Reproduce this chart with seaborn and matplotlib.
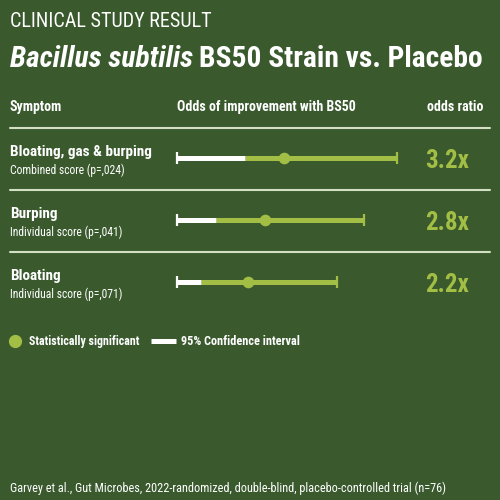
import matplotlib
matplotlib.use("Agg")
import matplotlib.pyplot as plt
from matplotlib import font_manager
from matplotlib.lines import Line2D
import seaborn as sns
import pandas as pd

# data
symptoms = ["Bloating, gas & burping", "Burping", "Bloating"]
subtitles = ["Combined score (p=,024)", "Individual score (p=,041)", "Individual score (p=,071)"]
odds_labels = ["3.2x", "2.8x", "2.2x"]
ci_start = [0.0, 0.0, 0.0]
white_end = [2.04, 1.16, 0.72]
points = [3.2, 2.63, 2.13]
ci_end = [6.6, 5.6, 4.78]

BG = "#3a5a2e"
LIME = "#a2be45"
WHITE = "#ffffff"
RULE = "#d3e0c4"

sns.set_theme(style="white", rc={"figure.facecolor": BG, "axes.facecolor": BG,
                                 "savefig.facecolor": BG})
names = {f.name for f in font_manager.fontManager.ttflist}
narrow = next((n for n in ["Liberation Sans Narrow", "Roboto Condensed", "Open Sans Condensed"]
               if n in names), "DejaVu Sans")
plt.rcParams["font.family"] = [narrow, "DejaVu Sans"]

df = pd.DataFrame({"symptom": symptoms, "row": range(len(symptoms)),
                   "ci_start": ci_start, "white_end": white_end,
                   "point": points, "ci_end": ci_end})

fig = plt.figure(figsize=(5, 5), dpi=100)
ax = fig.add_axes([0, 0, 1, 1])
ax.set_axis_off()

# pixel mapping: 0 at x=177, 33.4 px per unit; rows at y=158 + 62*i
k = 33.4
ax.set_xlim(-177 / k, 323 / k)
ax.set_ylim((500 - 158) / 62, -158 / 62)

ax.hlines(df["row"], df["white_end"], df["ci_end"], color=LIME, lw=3.6, capstyle="butt", zorder=2)
ax.hlines(df["row"], df["ci_start"], df["white_end"], color=WHITE, lw=3.6, capstyle="butt", zorder=2)
ax.vlines(df["ci_start"], df["row"] - 0.1, df["row"] + 0.1, color=WHITE, lw=1.6, zorder=3)
ax.vlines(df["ci_end"], df["row"] - 0.1, df["row"] + 0.1, color=LIME, lw=1.6, zorder=3)
sns.scatterplot(data=df, x="point", y="row", color=LIME, s=70, linewidth=0,
                ax=ax, legend=False, zorder=4)
ax.set_xlabel("")
ax.set_ylabel("")


def fy(py):
    return 1 - py / 500


def fx(px):
    return px / 500


# titles
fig.text(fx(10), fy(27), "CLINICAL STUDY RESULT", color=WHITE, fontsize=14.5, va="baseline")
r = fig.canvas.get_renderer()
size = 22
t1 = fig.text(fx(10), fy(67), "Bacillus subtilis", color=WHITE, fontsize=size,
              fontweight="bold", style="italic", va="baseline")
t2 = fig.text(0, fy(67), "BS50 Strain vs. Placebo", color=WHITE,
              fontsize=size, fontweight="bold", va="baseline")
# shrink the two-part title until it fits the reference width (10..485 px)
while True:
    t1.set_fontsize(size)
    t2.set_fontsize(size)
    bb = t1.get_window_extent(r)
    t2.set_x(bb.x1 / 500 + fx(6))
    if t2.get_window_extent(r).x1 <= 485 or size < 10:
        break
    size -= 0.25

# header
fig.text(fx(10), fy(111), "Symptom", color=WHITE, fontsize=10, fontweight="bold", va="baseline")
fig.text(fx(177), fy(111), "Odds of improvement with BS50", color=WHITE, fontsize=10,
         fontweight="bold", va="baseline")
fig.text(fx(483), fy(111), "odds ratio", color=WHITE, fontsize=10, fontweight="bold",
         va="baseline", ha="right")

# rules
for py in [128, 190, 252]:
    fig.add_artist(Line2D([fx(10), fx(490)], [fy(py), fy(py)], color=RULE, lw=1.5))

# row labels
for i, (s, sub, lab) in enumerate(zip(symptoms, subtitles, odds_labels)):
    base = 158 + 62 * i
    fig.text(fx(10), fy(base - 2), s, color=WHITE, fontsize=11, fontweight="bold", va="baseline")
    fig.text(fx(10), fy(base + 16), sub, color=WHITE, fontsize=8.4, va="baseline")
    fig.text(fx(425), fy(base + 10), lab, color=LIME, fontsize=18, fontweight="bold",
             va="baseline")

# legend
fig.add_artist(Line2D([fx(15)], [fy(341)], marker="o", ms=8.5, color=LIME, ls=""))
fig.text(fx(29), fy(345), "Statistically significant", color=WHITE, fontsize=8.6,
         fontweight="bold", va="baseline")
fig.add_artist(Line2D([fx(151), fx(176)], [fy(341), fy(341)], color=WHITE, lw=3.6,
                      solid_capstyle="butt"))
fig.text(fx(181), fy(345), "95% Confidence interval", color=WHITE, fontsize=8.8,
         fontweight="bold", va="baseline")

# footer
fig.text(fx(10), fy(492), "Garvey et al., Gut Microbes, 2022-randomized, double-blind, "
         "placebo-controlled trial (n=76)", color=WHITE, fontsize=8.8, va="baseline")

fig.savefig("out.png", dpi=100)
